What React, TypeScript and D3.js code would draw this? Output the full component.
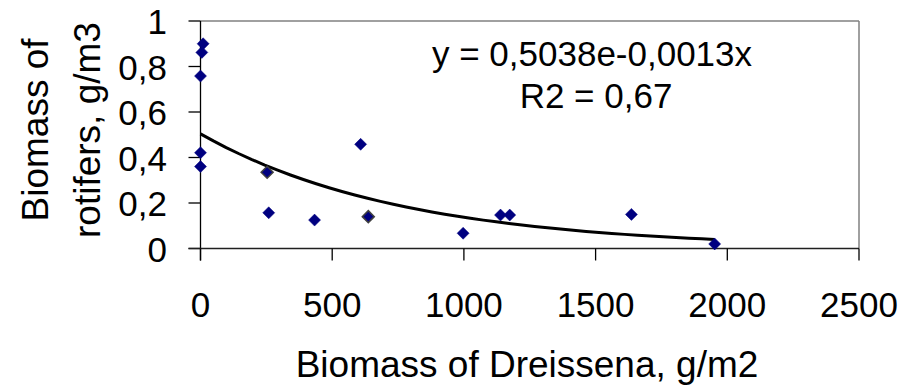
import React from "react";
import * as d3 from "d3";

const dreissena = [10, 5, 0, 0, 0, 253, 259, 433, 608, 637, 997, 1139, 1174, 1636, 1952];
const rotifers = [0.9, 0.862, 0.758, 0.421, 0.36, 0.335, 0.157, 0.125, 0.458, 0.14, 0.067, 0.147, 0.147, 0.15, 0.02];
const outlined = [false, false, false, false, false, true, false, false, false, true, false, false, false, false, false];
const xTicks = [0, 500, 1000, 1500, 2000, 2500];
const yTicks = [0, 0.2, 0.4, 0.6, 0.8, 1];
const fitA = 0.5038;
const fitB = -0.0013;
const equationText = "y = 0,5038e-0,0013x";
const r2Text = "R2 = 0,67";
const xTitle = "Biomass of Dreissena, g/m2";
const yTitleLines = ["Biomass of", "rotifers, g/m3"];

const W = 910;
const H = 388;
const FONT = "'Liberation Sans', Arial, Helvetica, sans-serif";

export default function App() {
  const x = d3.scaleLinear().domain([0, 2500]).range([200.5, 859]);
  const y = d3.scaleLinear().domain([0, 1]).range([248.5, 21]);
  const fmtY = (v: number) => (v === 0 || v === 1 ? String(v) : v.toFixed(1).replace(".", ","));

  const maxX = d3.max(dreissena) as number;
  const samples = d3.range(0, 41).map((i) => (i / 40) * maxX);
  const line = d3
    .line<number>()
    .x((d) => x(d))
    .y((d) => y(fitA * Math.exp(fitB * d)));

  const r = 6;
  const diamond = (cx: number, cy: number) =>
    `M${cx},${cy - r}L${cx + r},${cy}L${cx},${cy + r}L${cx - r},${cy}Z`;

  const [x0, x1] = x.range();
  const [y0, y1] = y.range();

  return (
    <svg
      width={W}
      height={H}
      style={{ position: "absolute", left: 0, top: 0, background: "#fff" }}
      fontFamily={FONT}
    >
      <rect x={0} y={0} width={W} height={H} fill="#fff" />
      {/* plot border */}
      <line x1={x0} x2={x1} y1={y1} y2={y1} stroke="#808080" strokeWidth={1.5} />
      <line x1={x1} x2={x1} y1={y1} y2={y0} stroke="#808080" strokeWidth={1.5} />
      {/* y axis */}
      <line x1={x0} x2={x0} y1={y1} y2={y0 + 12} stroke="#000" strokeWidth={1.3} />
      {yTicks.map((t) => (
        <g key={"yt" + t}>
          <line x1={x0 - 12} x2={x0} y1={y(t)} y2={y(t)} stroke="#000" strokeWidth={1.3} />
          <text x={167} y={y(t) + 13} textAnchor="end" fontSize={35} fill="#000">
            {fmtY(t)}
          </text>
        </g>
      ))}
      {/* x axis */}
      <line x1={x0 - 12} x2={x1} y1={y0} y2={y0} stroke="#202020" strokeWidth={1.3} />
      {xTicks.map((t) => (
        <g key={"xt" + t}>
          <line x1={x(t)} x2={x(t)} y1={y0} y2={y0 + 12} stroke="#000" strokeWidth={1.3} />
          <text x={x(t)} y={317} textAnchor="middle" fontSize={35} fill="#000">
            {t}
          </text>
        </g>
      ))}
      {/* trend line */}
      <path d={line(samples) || ""} fill="none" stroke="#000" strokeWidth={3} strokeLinejoin="round" />
      {/* points */}
      {dreissena.map((d, i) => (
        <path
          key={"p" + i}
          d={diamond(x(d), y(rotifers[i]))}
          fill="#000080"
          stroke={outlined[i] ? "#404040" : "#000080"}
          strokeWidth={outlined[i] ? 1.5 : 0.5}
        />
      ))}
      {/* equation */}
      <text x={592} y={66} textAnchor="middle" fontSize={35} fill="#000">
        {equationText}
      </text>
      <text x={596} y={108} textAnchor="middle" fontSize={35} fill="#000">
        {r2Text}
      </text>
      {/* titles */}
      <text x={527} y={377} textAnchor="middle" fontSize={37} fill="#000">
        {xTitle}
      </text>
      {yTitleLines.map((s, i) => (
        <text
          key={"yl" + i}
          transform={`translate(${48 + i * 52},${130}) rotate(-90)`}
          textAnchor="middle"
          fontSize={37}
          fill="#000"
        >
          {s}
        </text>
      ))}
    </svg>
  );
}
